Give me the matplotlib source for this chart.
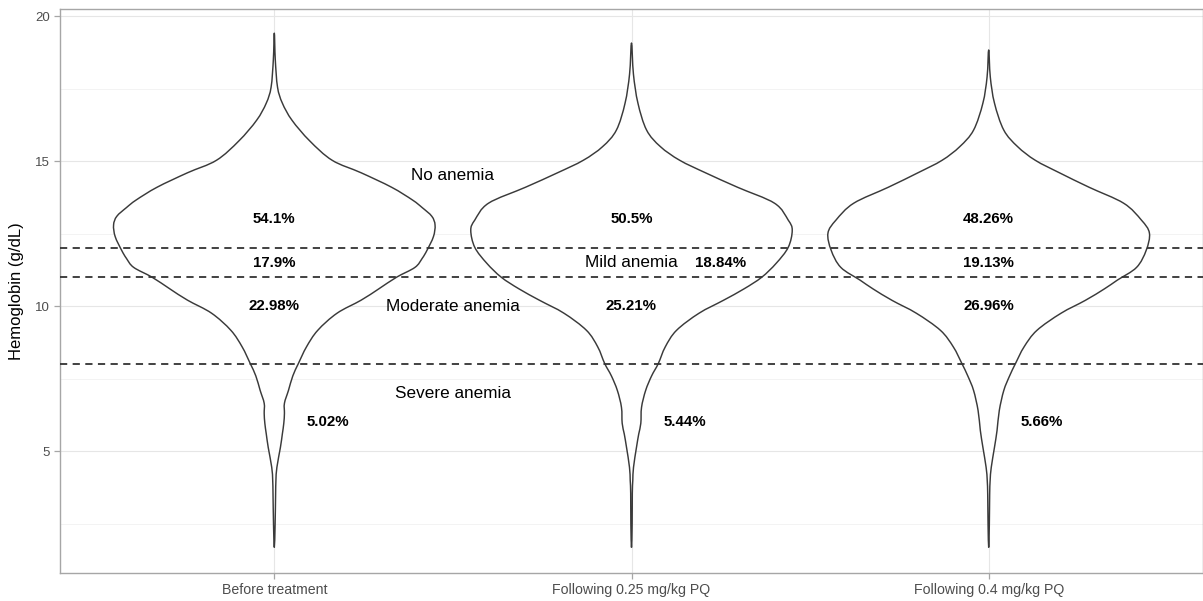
import numpy as np
import matplotlib
matplotlib.use("Agg")
from matplotlib import pyplot as plt
from matplotlib.path import Path
from matplotlib.patches import PathPatch

plt.rcParams['font.family'] = ['Liberation Sans', 'DejaVu Sans']

# categories on the x axis
groups = ['Before treatment', 'Following 0.25 mg/kg PQ', 'Following 0.4 mg/kg PQ']

# violin outlines: hemoglobin level and relative half width (1 = widest)
hb_1 = [1.69, 2.5, 3.5, 4.0, 4.45, 5.14, 5.6, 5.97, 6.31, 6.66, 7.1, 7.6, 8.03, 8.6, 9.17, 9.76,
        10.21, 10.6, 11.0, 11.34, 11.65, 11.93, 12.4, 12.8, 13.1, 13.4, 13.66, 14.1, 14.6, 15.03,
        15.7, 16.41, 17.0, 17.55, 18.5, 19.41]
w_1 = [0.0, 0.005, 0.008, 0.01, 0.016, 0.038, 0.05, 0.059, 0.063, 0.063, 0.088, 0.115, 0.15, 0.2,
       0.27, 0.39, 0.54, 0.65, 0.76, 0.875, 0.92, 0.95, 0.99, 1.0, 0.98, 0.92, 0.86, 0.73, 0.54,
       0.36, 0.22, 0.11, 0.05, 0.02, 0.006, 0.0]

hb_2 = [1.69, 2.5, 3.55, 4.0, 4.45, 5.14, 5.6, 5.97, 6.52, 7.1, 7.6, 8.03, 8.6, 9.17, 9.76, 10.2,
        10.6, 11.0, 11.48, 12.03, 12.62, 12.97, 13.55, 14.1, 14.6, 15.03, 15.5, 16.07, 17.0, 18.0,
        19.07]
w_2 = [0.0, 0.004, 0.005, 0.008, 0.0125, 0.031, 0.045, 0.058, 0.0625, 0.088, 0.125, 0.167, 0.21,
       0.28, 0.42, 0.57, 0.7, 0.81, 0.9, 0.975, 1.0, 0.975, 0.89, 0.66, 0.46, 0.3, 0.18, 0.094,
       0.04, 0.012, 0.0]

hb_3 = [1.69, 2.5, 3.5, 4.0, 4.45, 5.14, 5.72, 6.41, 7.1, 7.6, 8.03, 8.6, 9.17, 9.76, 10.2, 10.6,
        10.9, 11.34, 11.93, 12.52, 12.97, 13.55, 14.1, 14.6, 15.03, 15.5, 16.07, 17.0, 17.9, 18.83]
w_3 = [0.0, 0.004, 0.006, 0.009, 0.016, 0.036, 0.052, 0.066, 0.094, 0.13, 0.167, 0.22, 0.3, 0.45,
       0.6, 0.72, 0.8, 0.92, 0.98, 1.0, 0.95, 0.84, 0.625, 0.44, 0.29, 0.18, 0.094, 0.036, 0.01,
       0.0]

# anemia cut-offs (g/dL)
cutoffs = [12, 11, 8]

# percentage of each group in each category
pct_none = ['54.1%', '50.5%', '48.26%']
pct_mild = ['17.9%', '18.84%', '19.13%']
pct_moderate = ['22.98%', '25.21%', '26.96%']
pct_severe = ['5.02%', '5.44%', '5.66%']


def smooth_closed_path(xs, ys):
    # catmull-rom through the outline points, drawn as cubic bezier pieces
    pts = np.column_stack([xs, ys])
    n = len(pts)
    verts = [pts[0]]
    codes = [Path.MOVETO]
    for k in range(n):
        p0 = pts[(k - 1) % n]
        p1 = pts[k]
        p2 = pts[(k + 1) % n]
        p3 = pts[(k + 2) % n]
        verts += [p1 + (p2 - p0) / 6, p2 - (p3 - p1) / 6, p2]
        codes += [Path.CURVE4] * 3
    return Path(verts, codes)


fig = plt.figure(figsize=(12.03, 6.01), dpi=100)
ax = fig.add_axes([60 / 1203, 1 - 573 / 601, 1 - 60 / 1203, (573 - 8.5) / 601])

outline = '#3a3a3a'
for i, (hb, w) in enumerate([(hb_1, w_1), (hb_2, w_2), (hb_3, w_3)]):
    hb = np.array(hb)
    half = np.array(w) * 0.45
    pos = i + 1
    # right side going up, then left side coming down
    xs = np.concatenate([pos + half, (pos - half)[-2:0:-1]])
    ys = np.concatenate([hb, hb[-2:0:-1]])
    patch = PathPatch(smooth_closed_path(xs, ys), facecolor='white', edgecolor=outline,
                      lw=1.05, zorder=3, joinstyle='round')
    ax.add_patch(patch)

for c in cutoffs:
    ax.axhline(c, color='#333333', lw=1.3, dashes=(4, 3), zorder=4)

# region labels
lab_kw = dict(ha='center', va='center', fontsize=12.3, color='black', zorder=5)
ax.text(1.5, 14.5, 'No anemia', **lab_kw)
ax.text(2.0, 11.5, 'Mild anemia', **lab_kw)
ax.text(1.5, 10.0, 'Moderate anemia', **lab_kw)
ax.text(1.5, 7.0, 'Severe anemia', **lab_kw)

pct_kw = dict(ha='center', va='center', fontsize=10.8, fontweight='bold', color='black', zorder=5)
for i in range(3):
    pos = i + 1
    ax.text(pos, 13.0, pct_none[i], **pct_kw)
    ax.text(pos + (0.25 if i == 1 else 0), 11.5, pct_mild[i], **pct_kw)
    ax.text(pos, 10.0, pct_moderate[i], **pct_kw)
    ax.text(pos + 0.15, 6.0, pct_severe[i], **pct_kw)

ax.set_xlim(0.4, 3.6)
ax.set_ylim(0.81, 20.26)
ax.set_xticks([1, 2, 3])
ax.set_xticklabels(groups)
ax.set_yticks([5, 10, 15, 20])
ax.set_yticks([2.5, 7.5, 12.5, 17.5], minor=True)
ax.set_xticks([], minor=True)

ax.grid(which='major', color='#e6e6e6', lw=0.8, zorder=0)
ax.grid(which='minor', axis='y', color='#f1f1f1', lw=0.6, zorder=0)
ax.set_axisbelow(True)

for s in ax.spines.values():
    s.set_color('#a6a6a6')
    s.set_linewidth(1.0)
ax.tick_params(which='major', length=4, width=0.9, color='#a6a6a6', labelcolor='#4d4d4d',
               labelsize=9.5, pad=3)
ax.tick_params(axis='x', which='major', labelsize=10.2)
ax.tick_params(which='minor', length=0)
ax.set_ylabel('Hemoglobin (g/dL)', fontsize=12, color='black', labelpad=8)

fig.savefig('out.png', dpi=100)
